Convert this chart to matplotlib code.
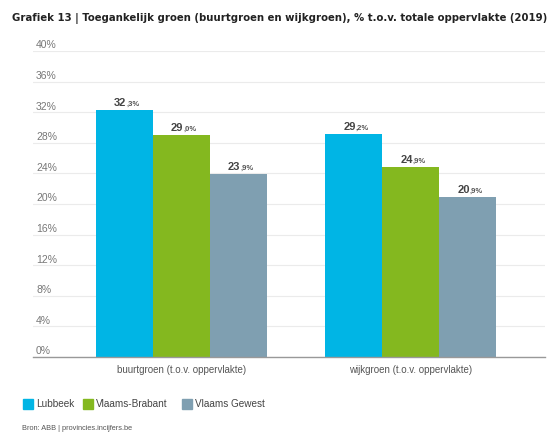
import matplotlib
matplotlib.use("Agg")
import matplotlib.pyplot as plt
from matplotlib.patches import Rectangle
import matplotlib.transforms as mtransforms
import numpy as np

categories = ["buurtgroen (t.o.v. oppervlakte)", "wijkgroen (t.o.v. oppervlakte)"]
series_names = ["Lubbeek", "Vlaams-Brabant", "Vlaams Gewest"]
lubbeek = [32.3, 29.2]
vlaams_brabant = [29.0, 24.9]
vlaams_gewest = [23.9, 20.9]
y_ticks = [0, 4, 8, 12, 16, 20, 24, 28, 32, 36, 40]

colors = ["#00b5e5", "#84b81f", "#7f9fb1"]
SANS = "Liberation Sans"

fig = plt.figure(figsize=(5.48, 4.34), dpi=100)
W, H = 548, 434
ax = fig.add_axes([33 / W, 1 - 357 / H, (545 - 33) / W, (357 - 51) / H])

x = np.arange(len(categories))
width = 0.249
all_series = [lubbeek, vlaams_brabant, vlaams_gewest]
for i, (vals, col) in enumerate(zip(all_series, colors)):
    pos = x + (i - 1) * width
    ax.bar(pos, vals, width=width, color=col, zorder=3)
    for px, v in zip(pos, vals):
        whole, dec = f"{v:.1f}".split(".")
        ax.text(px + 0.008, v + 0.25, whole, ha="right", va="bottom", family=SANS,
                fontsize=8, fontweight="bold", color="#444444", zorder=4)
        ax.text(px + 0.008, v + 0.25, f",{dec}%", ha="left", va="bottom", family=SANS,
                fontsize=5.5, fontweight="bold", color="#555555", zorder=4)

ax.set_xlim(-0.647, 1.585)
ax.set_ylim(0, 40)
ax.set_yticks(y_ticks)
ax.set_yticklabels([])
ax.yaxis.grid(True, color="#ebebeb", linewidth=0.8, zorder=0)
ax.tick_params(axis="y", length=0)

# y labels sit just above their gridline, inside the plot area
lab_tr = mtransforms.offset_copy(ax.get_yaxis_transform(), fig=fig, x=0, y=0.5, units="points")
for t in y_ticks:
    ax.text(0.006, t, f"{t}%", transform=lab_tr, ha="left", va="bottom",
            family=SANS, fontsize=7.5, color="#777777")

ax.set_xticks(x)
ax.set_xticklabels(categories, fontsize=7.0, color="#555555", family=SANS)
ax.tick_params(axis="x", length=0, pad=6)
for s in ["top", "right", "left"]:
    ax.spines[s].set_visible(False)
ax.spines["bottom"].set_color("#999999")
ax.spines["bottom"].set_linewidth(1.0)
ax.spines["bottom"].set_zorder(5)

fig.text(12 / W, 1 - 18 / H,
         "Grafiek 13 | Toegankelijk groen (buurtgroen en wijkgroen), % t.o.v. totale oppervlakte (2019)",
         fontsize=7.3, fontweight="bold", color="#222222", va="center", ha="left")

# legend
for name, col, sx in zip(series_names, colors, [23, 83, 182]):
    fig.patches.append(Rectangle((sx / W, 1 - 409 / H), 10 / W, 10 / H,
                                 transform=fig.transFigure, color=col))
    fig.text((sx + 13) / W, 1 - 404 / H, name, fontsize=7.2, color="#444444",
             va="center", ha="left", family=SANS)

fig.text(22 / W, 1 - 428 / H, "Bron: ABB | provincies.incijfers.be",
         fontsize=5.3, color="#555555", va="center", ha="left", family=SANS)

fig.savefig("out.png", dpi=100)
